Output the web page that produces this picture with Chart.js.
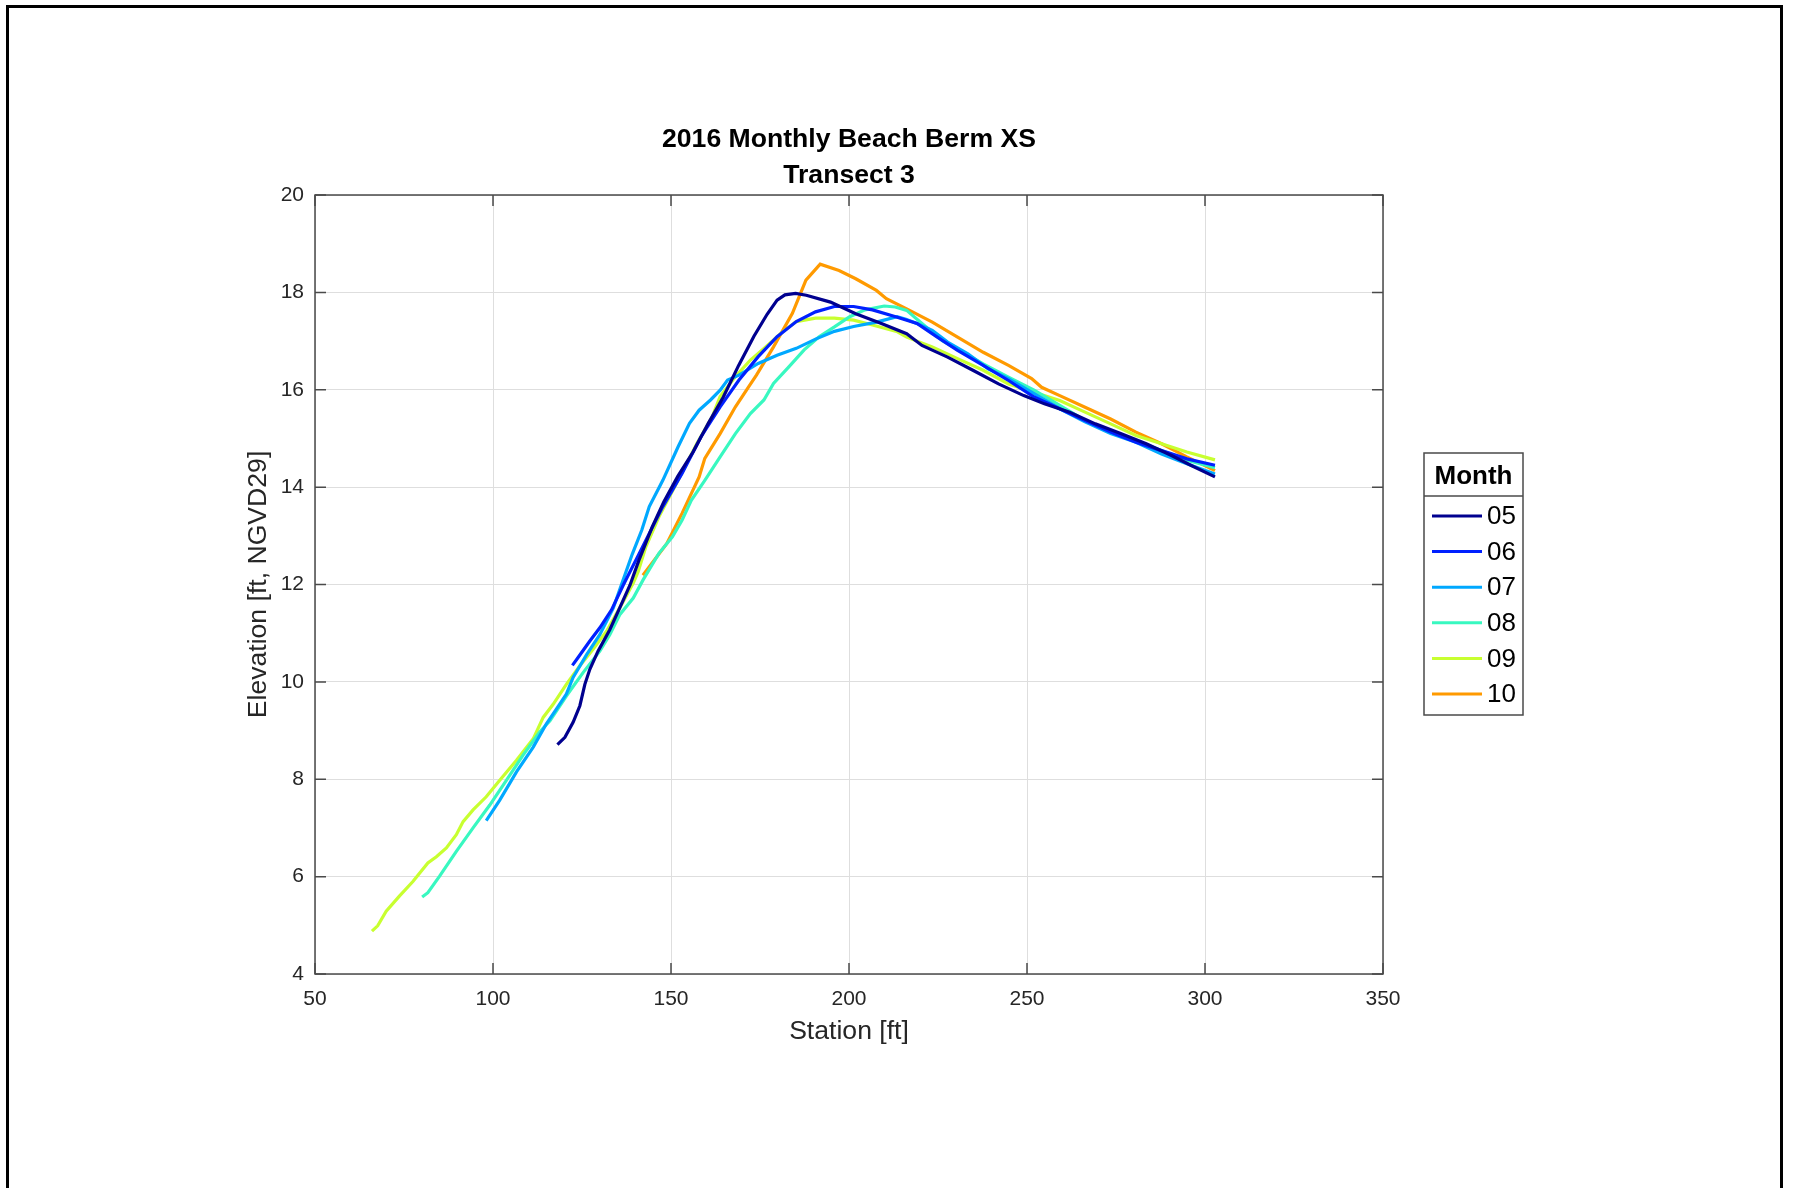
<!DOCTYPE html>
<html>
<head>
<meta charset="utf-8">
<script src="https://cdn.jsdelivr.net/npm/chart.js@4.4.1/dist/chart.umd.min.js"></script>
<style>
  html, body { margin: 0; padding: 0; background: #fff; }
  #wrap { position: relative; width: 1794px; height: 1188px; }
  #frame { position: absolute; left: 6px; top: 5px; width: 1771px; height: 1300px;
           border: 3px solid #000; pointer-events: none; }
  canvas { position: absolute; left: 0; top: 0; }
</style>
</head>
<body>
<div id="wrap">
  <canvas id="xsChart" width="1794" height="1188"></canvas>
  <div id="frame"></div>
</div>
<script>
// 2016 monthly beach berm cross sections, transect 3
const months = ['05', '06', '07', '08', '09', '10'];
const monthColors = ['#00008f', '#0020ff', '#00a8ff', '#38f8c0', '#c8ff30', '#ff9a00'];

const xTicks = [50, 100, 150, 200, 250, 300, 350];
const yTicks = [4, 6, 8, 10, 12, 14, 16, 18, 20];

// station [ft] / elevation [ft, NGVD29]
const sta05 = [118.1, 120.2, 122.5, 124.4, 125.8, 127.2, 129.5, 132.8, 135.6, 138.5, 141.0, 144.7, 148.0, 151.9, 156.2, 160.4, 164.7, 169.0, 173.3, 177.0, 179.8, 182.0, 185.0, 188.0, 194.8, 201.9, 209.1, 216.2, 220.5, 227.7, 234.8, 242.0, 249.1, 254.9, 262.0, 269.2, 276.3, 283.5, 290.6, 296.0, 302.8];
const elv05 = [8.71, 8.86, 9.17, 9.51, 9.95, 10.26, 10.63, 11.07, 11.52, 11.99, 12.50, 13.18, 13.70, 14.22, 14.72, 15.30, 15.85, 16.50, 17.10, 17.55, 17.84, 17.95, 17.98, 17.94, 17.80, 17.56, 17.36, 17.15, 16.91, 16.67, 16.40, 16.12, 15.88, 15.71, 15.54, 15.30, 15.10, 14.89, 14.65, 14.45, 14.21];

const sta06 = [122.3, 123.9, 127.2, 130.0, 133.3, 136.6, 141.3, 147.7, 153.1, 158.4, 163.8, 169.1, 174.5, 179.8, 185.2, 190.6, 195.9, 201.3, 206.6, 213.1, 219.1, 224.8, 230.5, 237.7, 244.8, 252.0, 259.2, 266.3, 273.5, 280.6, 287.8, 294.9, 302.8];
const elv06 = [10.34, 10.50, 10.84, 11.11, 11.48, 11.99, 12.67, 13.60, 14.28, 15.03, 15.65, 16.20, 16.68, 17.09, 17.40, 17.60, 17.71, 17.71, 17.64, 17.50, 17.36, 17.08, 16.81, 16.50, 16.19, 15.85, 15.61, 15.37, 15.13, 14.92, 14.75, 14.58, 14.45];

const sta07 = [98.1, 101.9, 106.6, 111.3, 115.0, 117.8, 120.6, 122.5, 126.3, 130.0, 133.8, 136.2, 139.1, 141.8, 143.9, 147.7, 152.0, 155.2, 157.9, 161.1, 163.8, 165.9, 169.1, 174.5, 179.8, 185.2, 190.6, 195.9, 201.3, 207.7, 213.5, 216.0, 219.1, 223.4, 227.7, 233.4, 239.1, 244.8, 252.0, 259.2, 266.3, 273.5, 280.6, 287.8, 294.9, 302.8];
const elv07 = [7.15, 7.57, 8.15, 8.66, 9.14, 9.44, 9.75, 10.09, 10.56, 10.97, 11.52, 12.02, 12.62, 13.12, 13.60, 14.14, 14.83, 15.31, 15.58, 15.79, 15.99, 16.20, 16.30, 16.54, 16.71, 16.85, 17.04, 17.20, 17.30, 17.39, 17.50, 17.45, 17.36, 17.22, 16.98, 16.74, 16.43, 16.23, 15.92, 15.61, 15.34, 15.10, 14.92, 14.68, 14.48, 14.27];

const sta08 = [80.1, 81.7, 85.0, 89.7, 94.4, 99.1, 103.8, 108.4, 113.1, 116.0, 120.6, 125.3, 130.0, 132.8, 135.6, 139.4, 142.2, 146.6, 150.4, 153.1, 155.7, 159.5, 163.8, 168.1, 172.3, 176.1, 178.8, 183.1, 187.4, 191.6, 195.9, 200.2, 204.5, 209.9, 213.0, 216.2, 220.5, 226.2, 231.9, 237.7, 244.8, 252.0, 259.2, 266.3, 273.5, 280.6, 287.8, 294.9, 302.8];
const elv08 = [5.58, 5.67, 6.01, 6.52, 7.00, 7.47, 7.98, 8.49, 8.97, 9.20, 9.71, 10.19, 10.63, 10.97, 11.38, 11.72, 12.10, 12.64, 12.98, 13.32, 13.73, 14.14, 14.62, 15.10, 15.51, 15.79, 16.13, 16.47, 16.82, 17.09, 17.29, 17.50, 17.64, 17.72, 17.70, 17.63, 17.36, 17.01, 16.77, 16.53, 16.26, 15.99, 15.68, 15.37, 15.16, 14.96, 14.75, 14.55, 14.40];

const sta09 = [66.0, 67.6, 70.0, 73.7, 77.5, 81.7, 84.1, 86.9, 89.7, 91.6, 94.4, 98.1, 101.9, 106.6, 111.3, 114.1, 116.9, 120.6, 124.4, 128.1, 131.9, 135.6, 139.4, 140.8, 142.9, 146.6, 152.0, 157.3, 161.6, 163.8, 168.1, 172.3, 176.6, 180.9, 185.2, 190.6, 195.9, 201.3, 206.6, 213.6, 216.2, 223.4, 230.5, 237.7, 244.8, 252.0, 259.2, 266.3, 273.5, 280.6, 287.8, 294.9, 302.8];
const elv09 = [4.88, 4.99, 5.29, 5.60, 5.90, 6.28, 6.41, 6.59, 6.86, 7.13, 7.37, 7.64, 7.98, 8.39, 8.83, 9.27, 9.54, 9.95, 10.33, 10.67, 11.04, 11.52, 12.03, 12.27, 12.77, 13.39, 14.14, 14.90, 15.45, 15.86, 16.27, 16.61, 16.88, 17.16, 17.40, 17.47, 17.47, 17.43, 17.33, 17.19, 17.08, 16.88, 16.64, 16.40, 16.12, 15.95, 15.78, 15.54, 15.30, 15.06, 14.89, 14.72, 14.56];

const sta10 = [142.1, 148.8, 153.1, 157.9, 159.5, 163.8, 168.1, 171.8, 174.0, 178.8, 184.1, 187.9, 191.9, 197.2, 201.9, 207.7, 210.5, 216.2, 223.4, 230.5, 237.7, 244.8, 251.3, 254.1, 259.2, 266.3, 273.5, 280.6, 287.8, 294.9, 302.8];
const elv10 = [12.19, 12.84, 13.46, 14.21, 14.59, 15.10, 15.65, 16.06, 16.30, 16.88, 17.57, 18.25, 18.58, 18.45, 18.28, 18.04, 17.87, 17.66, 17.39, 17.08, 16.77, 16.50, 16.23, 16.05, 15.88, 15.64, 15.40, 15.13, 14.89, 14.62, 14.34];

const stations = [sta05, sta06, sta07, sta08, sta09, sta10];
const elevations = [elv05, elv06, elv07, elv08, elv09, elv10];

const FONT = "'Liberation Sans', Arial, Helvetica, sans-serif";
const AXIS_COLOR = '#262626';

const datasets = months.map((m, i) => ({
  label: m,
  data: stations[i].map((x, k) => ({ x: x, y: elevations[i][k] })),
  borderColor: monthColors[i],
  backgroundColor: monthColors[i],
  borderWidth: 3.2,
  pointRadius: 0,
  tension: 0
}));

// box, inward ticks, two-line title and the "Month" legend (MATLAB look)
const matlabDecor = {
  id: 'matlabDecor',
  afterDraw(chart) {
    const c = chart.ctx;
    const a = chart.chartArea;
    const xs = chart.scales.x, ys = chart.scales.y;
    c.save();
    c.strokeStyle = '#4a4a4a';
    c.lineWidth = 1.5;
    c.strokeRect(a.left, a.top, a.right - a.left, a.bottom - a.top);
    c.beginPath();
    xs.ticks.forEach(t => {
      const px = xs.getPixelForValue(t.value);
      c.moveTo(px, a.bottom); c.lineTo(px, a.bottom - 11);
      c.moveTo(px, a.top); c.lineTo(px, a.top + 11);
    });
    ys.ticks.forEach(t => {
      const py = ys.getPixelForValue(t.value);
      c.moveTo(a.left, py); c.lineTo(a.left + 11, py);
      c.moveTo(a.right, py); c.lineTo(a.right - 11, py);
    });
    c.stroke();

    // title
    const cx = (a.left + a.right) / 2;
    c.fillStyle = '#000';
    c.textAlign = 'center';
    c.textBaseline = 'middle';
    c.font = 'bold 26.6px ' + FONT;
    c.fillText('2016 Monthly Beach Berm XS', cx, 140);
    c.fillText('Transect 3', cx, 176);

    // legend
    const lx = 1424, ly = 453, lw = 99, lh = 262;
    c.fillStyle = '#fff';
    c.fillRect(lx, ly, lw, lh);
    c.strokeStyle = '#4a4a4a';
    c.lineWidth = 1.5;
    c.strokeRect(lx, ly, lw, lh);
    c.beginPath();
    c.moveTo(lx, 496); c.lineTo(lx + lw, 496);
    c.stroke();
    c.fillStyle = '#000';
    c.font = 'bold 26px ' + FONT;
    c.fillText('Month', lx + lw / 2, 477);
    c.font = '26px ' + FONT;
    c.textAlign = 'left';
    chart.data.datasets.forEach((ds, i) => {
      const y = 516 + i * 35.6;
      c.strokeStyle = ds.borderColor;
      c.lineWidth = 3;
      c.beginPath();
      c.moveTo(1432, y); c.lineTo(1482, y);
      c.stroke();
      c.fillStyle = '#000';
      c.fillText(ds.label, 1487, y + 1);
    });
    c.restore();
  }
};

const ctx = document.getElementById('xsChart').getContext('2d');
const xsChart = new Chart(ctx, {
  type: 'line',
  data: { datasets: datasets },
  plugins: [matlabDecor],
  options: {
    responsive: false,
    animation: false,
    devicePixelRatio: 1,
    layout: { padding: { left: 230, top: 195, right: 411, bottom: 130 } },
    plugins: {
      legend: { display: false },
      title: { display: false },
      tooltip: { enabled: false }
    },
    scales: {
      x: {
        type: 'linear',
        min: xTicks[0],
        max: xTicks[xTicks.length - 1],
        afterBuildTicks: s => { s.ticks = xTicks.map(v => ({ value: v })); },
        afterFit: s => { s.height = 84; },
        grid: { color: '#dedede', lineWidth: 1, drawTicks: false },
        border: { display: false },
        ticks: { color: AXIS_COLOR, padding: 13, font: { family: FONT, size: 21 }, maxRotation: 0 },
        title: { display: true, text: 'Station [ft]', color: AXIS_COLOR,
                 font: { family: FONT, size: 26.6 }, padding: { top: 0, bottom: 10 } }
      },
      y: {
        type: 'linear',
        min: yTicks[0],
        max: yTicks[yTicks.length - 1],
        afterBuildTicks: s => { s.ticks = yTicks.map(v => ({ value: v })); },
        afterFit: s => { s.width = 85; },
        grid: { color: '#dedede', lineWidth: 1, drawTicks: false },
        border: { display: false },
        ticks: { color: AXIS_COLOR, padding: 11, font: { family: FONT, size: 21 } },
        title: { display: true, text: 'Elevation [ft, NGVD29]', color: AXIS_COLOR,
                 font: { family: FONT, size: 26.6 }, padding: { top: 13, bottom: 0 } }
      }
    }
  }
});
</script>
</body>
</html>
